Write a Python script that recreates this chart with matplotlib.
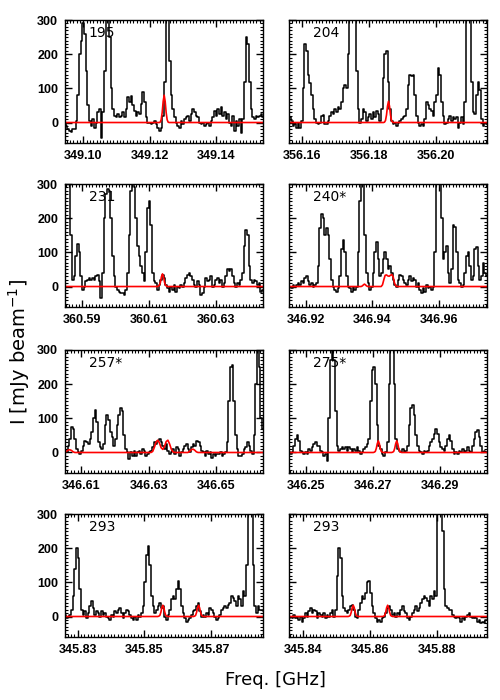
import numpy as np
import matplotlib
matplotlib.use("Agg")
import matplotlib.pyplot as plt
from matplotlib.ticker import FixedLocator, MultipleLocator, FormatStrFormatter

# etiquetas de cada panel
labels = ["195", "204", "231", "240*", "257*", "275*", "293", "293"]

# frecuencia del primer canal y ancho de canal (GHz)
f0 = [349.0945, 356.1558, 360.5846, 346.9148, 346.6053, 346.2448, 345.8262, 345.8358]
df = 0.0005

# limites en x y ticks
xlims = [(349.0945, 349.1540), (356.1560, 356.2153), (360.5848, 360.6441), (346.9150, 346.9743),
         (346.6053, 346.6638), (346.2448, 346.3040), (345.8262, 345.8855), (345.8358, 345.8950)]
xticks = [[349.10, 349.12, 349.14], [356.16, 356.18, 356.20], [360.59, 360.61, 360.63],
          [346.92, 346.94, 346.96], [346.61, 346.63, 346.65], [346.25, 346.27, 346.29],
          [345.83, 345.85, 345.87], [345.84, 345.86, 345.88]]

# espectros observados (mJy/beam)
spec_195 = [-5, -10, -20, -25, -28, -20, -20, 5, 80, 200, 240, 290, 260, 150, 50, 5, -10, 10, -15, 0,
            30, 40, -45, 30, 150, 320, 340, 250, 100, 40, 20, 15, 25, 15, 20, 30, 15, 40, 75, 60,
            78, 50, 35, 20, 30, 25, 55, 88, 60, 15, 0, 0, -5, 0, 5, -5, -15, -25, -15, 20,
            120, 330, 320, 180, 80, 40, 15, 0, -10, -15, 5, -5, 10, 15, 20, 5, 25, 40, 30, 20,
            15, 0, -5, 0, -10, -5, 0, -10, 5, 15, 35, 20, 40, 25, 45, 20, 30, 10, 25, 0,
            -10, 20, -25, 5, -10, 10, -30, 10, 120, 250, 230, 120, 40, 15, 10, 20, 15, 20, 25, 15]
spec_204 = [30, 15, 5, -10, -5, -15, 0, -15, 5, 100, 230, 210, 140, 115, 80, 40, 10, 0, -5, 0,
            20, 22, -5, -5, 5, 20, 30, 25, 40, 30, 45, 40, 60, 100, 110, 100, 200, 330, 300, 330,
            330, 150, 40, 0, 10, 40, 30, 5, 15, 25, 10, 30, 15, 35, 25, 5, 40, 130, 200, 210,
            120, 40, 5, -5, 0, -10, 0, 5, 10, 15, 20, 40, 110, 140, 135, 140, 80, 20, 0, -10,
            -5, -10, 10, 60, 50, 40, 35, 20, 60, 80, 160, 140, 60, 20, -5, 0, 10, 20, 5, 15,
            10, 15, -15, 0, 15, -5, 60, 300, 330, 330, 120, 30, 25, 80, 120, 95, 10, -10, 0, -5]
spec_231 = [330, 330, 330, 300, 150, 20, 30, 90, 125, 100, 30, -10, 0, 15, 20, 25, 20, 25, 20, 30,
            35, 15, -33, 40, 200, 270, 285, 280, 200, 90, 30, 0, -10, -15, -20, -18, -25, -10, 40, 150,
            280, 320, 290, 200, 120, 90, 60, 40, 15, 100, 230, 250, 180, 40, 15, 10, -10, 5, 20, 35,
            25, 5, -5, -15, 0, -10, 5, -15, 0, -5, 5, 0, 10, 25, 35, 40, 30, 20, 5, 0,
            15, 5, -25, -20, 0, 25, 15, 20, 30, 0, 5, 20, 25, 10, 20, 0, 10, 30, 50, 45,
            50, 30, 10, 0, 10, 5, 20, 40, 120, 165, 150, 60, 20, 10, 20, 15, 5, 10, -15, -10]
spec_240 = [-5, 0, -5, 5, 0, 5, 10, 5, 15, 10, 25, 32, 15, 5, 10, 0, 5, 10, 60, 170,
            212, 200, 150, 172, 150, 80, 20, 0, -10, -15, -5, 30, 110, 137, 100, 30, 0, -5, -15, 0,
            -10, 0, 100, 250, 330, 320, 150, 40, 10, -10, 0, 40, 100, 130, 80, 30, 40, 80, 100, 80,
            50, 60, 40, 20, 5, 0, 20, 35, 30, 20, 10, 5, 20, 30, 15, 25, 20, 0, 10, -10,
            -20, -5, -15, 5, -5, 0, -10, 0, 100, 300, 330, 330, 200, 80, 100, 120, 40, 10, 50, 180,
            175, 100, 20, 10, 0, 5, 40, 90, 100, 60, 20, 30, 110, 115, 60, 20, 30, 70, 40, 30]
spec_257 = [5, 0, 20, 40, 75, 70, 40, 10, 0, -5, 5, 20, 35, 30, 25, 40, 60, 100, 125, 90,
            30, 15, 10, 25, 80, 110, 95, 60, 45, 20, 40, 80, 110, 130, 120, 50, 10, 0, -20, 0,
            -10, 5, -10, 0, 5, -5, 10, 5, -10, -5, 0, 5, 15, 30, 25, 35, 40, 30, 20, 10,
            25, 5, -5, 0, 10, -5, 15, 10, -10, 0, 10, 20, 25, 10, 0, 15, 25, 20, 35, 30,
            20, 5, 0, -10, 5, -5, 0, -15, -5, -10, -5, -5, 0, -10, -5, 0, 30, 150, 250, 255,
            150, 50, 10, -10, -10, -5, 10, 15, 30, 20, 5, -5, 50, 200, 310, 250, 100, 70, 130, 110]
spec_275 = [0, -5, 0, 20, 40, 50, 35, 5, 0, -5, 0, -5, 10, 5, 15, 25, 30, 20, 20, 5,
            0, -10, -5, -25, 100, 270, 320, 270, 120, 20, 5, 10, 15, 10, 15, 5, 15, 10, 0, 10,
            5, 15, 5, -5, 0, 10, 15, 25, 40, 150, 240, 250, 200, 80, 20, 10, -5, -10, 0, 30,
            200, 320, 330, 200, 40, 10, 5, 0, 10, 0, 5, 20, 80, 130, 140, 110, 50, 20, 5, 0,
            -5, 5, 0, 5, 20, 30, 40, 55, 70, 55, 30, 15, 10, 5, 20, 40, 50, 35, 10, -5,
            0, -5, 5, 0, 10, 0, 5, 15, 5, 0, 20, 40, 60, 65, 45, 20, 0, 5, 0, 0]
spec_293a = [5, -5, 0, 5, 20, 60, 140, 200, 170, 80, 20, 5, 15, -5, 10, 30, 45, 25, 5, 15,
             10, 0, 15, 5, 10, 0, -5, -10, 5, 0, 15, 10, 20, 25, 10, -5, 10, 20, 15, 5,
             -5, -10, 0, -10, 5, 0, 10, 30, 100, 180, 205, 150, 60, 30, 10, 20, 30, 40, 25, 30,
             0, -10, 5, 20, 50, 60, 50, 80, 105, 80, 30, 10, -5, -15, -10, -5, 5, 15, 20, 30,
             40, 15, 0, 5, 0, 10, 5, 25, 20, 10, 0, -10, -5, 5, 20, 25, 30, 25, 35, 40,
             60, 55, 45, 30, 60, 50, 30, 75, 60, 150, 330, 330, 330, 150, 30, 10, 30, 20, 20, 15]
spec_293b = [-5, 0, -5, 5, -5, 0, -10, 0, -15, -5, 10, 0, 15, 25, 10, 20, 15, -5, 10, 5,
             0, 10, -5, 5, 0, 10, 20, 0, 20, 120, 200, 170, 60, 25, 15, 10, 20, 30, 35, 20,
             0, -5, 20, 40, 60, 50, 70, 100, 105, 70, 30, 10, -5, -15, -10, -15, -5, 0, 10, 25,
             30, 20, 5, 10, 0, 10, 5, 20, 30, 15, 10, -5, -10, 0, 10, 20, 30, 15, 25, 40,
             50, 60, 55, 45, 30, 60, 50, 75, 60, 330, 330, 330, 250, 80, 30, 25, 20, 20, 5, 0,
             -5, 0, -5, -15, -5, -10, 0, 5, 10, 0, -5, 0, -5, -15, -10, -20, -15, -20, -10, -10]
spectra = [spec_195, spec_204, spec_231, spec_240, spec_257, spec_275, spec_293a, spec_293b]

# ajustes gaussianos (rojo)
fit_x = [
    [349.0945, 349.1228, 349.1231, 349.1234, 349.1237, 349.1240, 349.1243, 349.1246, 349.1249, 349.1252, 349.1255, 349.1258, 349.1540],
    [356.1560, 356.1843, 356.1846, 356.1849, 356.1852, 356.1855, 356.1858, 356.1861, 356.1864, 356.1867, 356.1870, 356.1873, 356.2153],
    [360.5848, 360.6125, 360.6128, 360.6131, 360.6134, 360.6137, 360.6140, 360.6143, 360.6146, 360.6149, 360.6152, 360.6155, 360.6441],
    [346.9150, 346.9366, 346.9370, 346.9373, 346.9376, 346.9379, 346.9382, 346.9386,
     346.9426, 346.9430, 346.9434, 346.9438, 346.9442, 346.9446, 346.9450, 346.9454, 346.9458, 346.9462, 346.9466, 346.9470, 346.9474, 346.9743],
    [346.6053, 346.6058, 346.6062, 346.6067, 346.6072, 346.6077, 346.6082,
     346.6307, 346.6312, 346.6317, 346.6322, 346.6327, 346.6332, 346.6337, 346.6342, 346.6347, 346.6352, 346.6357, 346.6362, 346.6367, 346.6372, 346.6377,
     346.6416, 346.6421, 346.6426, 346.6431, 346.6436, 346.6441, 346.6446, 346.6638],
    [346.2448, 346.2700, 346.2703, 346.2706, 346.2709, 346.2712, 346.2715, 346.2718, 346.2721, 346.2724, 346.2727, 346.2730,
     346.2755, 346.2758, 346.2761, 346.2764, 346.2767, 346.2770, 346.2773, 346.2776, 346.2779, 346.2782, 346.2785, 346.3040],
    [345.8262, 345.8540, 345.8543, 345.8546, 345.8549, 345.8552, 345.8555, 345.8558, 345.8561, 345.8564, 345.8567, 345.8570,
     345.8647, 345.8650, 345.8653, 345.8656, 345.8659, 345.8662, 345.8665, 345.8668, 345.8671, 345.8674, 345.8677, 345.8855],
    [345.8358, 345.8535, 345.8538, 345.8541, 345.8544, 345.8547, 345.8550, 345.8553, 345.8556, 345.8559, 345.8562, 345.8565,
     345.8638, 345.8641, 345.8644, 345.8647, 345.8650, 345.8653, 345.8656, 345.8659, 345.8662, 345.8665, 345.8668, 345.8950],
]
fit_y = [
    [0, 0, 1, 8, 29, 62, 80, 62, 29, 8, 1, 0, 0],
    [0, 0, 1, 6, 22, 48, 62, 48, 22, 6, 1, 0, 0],
    [0, 0, 1, 4, 13, 29, 37, 29, 13, 4, 1, 0, 0],
    [0, 0, 2, 5, 7, 5, 2, 0,
     0, 5, 20, 33, 34, 31, 30, 33, 35, 28, 10, 2, 0, 0],
    [1, 4, 7, 8, 6, 2, 0,
     0, 3, 15, 30, 36, 28, 14, 9, 18, 32, 36, 25, 10, 2, 0,
     0, 3, 8, 10, 7, 2, 0, 0],
    [0, 0, 1, 3, 12, 26, 34, 26, 12, 3, 1, 0,
     0, 1, 3, 12, 26, 34, 26, 12, 3, 1, 0, 0],
    [0, 0, 1, 3, 12, 26, 33, 26, 12, 3, 1, 0,
     0, 1, 3, 12, 26, 33, 26, 12, 3, 1, 0, 0],
    [0, 0, 1, 3, 12, 26, 33, 26, 12, 3, 1, 0,
     0, 1, 3, 12, 26, 33, 26, 12, 3, 1, 0, 0],
]

ylim = (-60, 300)
yticks = [0, 100, 200, 300]

fig = plt.figure(figsize=(5, 7), dpi=100)

lefts = [0.130, 0.578]
bottoms = [0.7957, 0.5614, 0.3243, 0.0900]
w = 0.396
h = 0.1757

for i in range(8):
    fila = i // 2
    col = i % 2
    ax = fig.add_axes([lefts[col], bottoms[fila], w, h])
    x = f0[i] + df * np.arange(len(spectra[i]))
    ax.plot(x, spectra[i], color="black", lw=1.1, drawstyle="steps-mid")
    ax.plot(fit_x[i], fit_y[i], color="red", lw=1.2)
    ax.set_xlim(xlims[i])
    ax.set_ylim(ylim)
    ax.xaxis.set_major_locator(FixedLocator(xticks[i]))
    ax.xaxis.set_major_formatter(FormatStrFormatter("%.2f"))
    ax.xaxis.set_minor_locator(MultipleLocator(0.001))
    ax.yaxis.set_major_locator(FixedLocator(yticks))
    ax.yaxis.set_minor_locator(MultipleLocator(10))
    ax.tick_params(which="both", direction="in", top=True, right=True)
    ax.tick_params(which="major", length=5, width=1, pad=5)
    ax.tick_params(which="minor", length=2, width=0.8)
    for lab in ax.get_xticklabels() + ax.get_yticklabels():
        lab.set_fontfamily("Liberation Sans")
        lab.set_fontweight("bold")
        lab.set_fontsize(9)
    if col == 1:
        ax.tick_params(labelleft=False)
    for s in ax.spines.values():
        s.set_linewidth(1.0)
    ax.text(0.12, 0.95, labels[i], transform=ax.transAxes, ha="left", va="top",
            fontsize=10, family="DejaVu Sans")

fig.text(0.038, 0.497, "I [mJy beam$^{-1}$]", rotation=90, ha="center", va="center", fontsize=14)
fig.text(0.55, 0.028, "Freq. [GHz]", ha="center", va="center", fontsize=13)

plt.savefig("out.png", dpi=100)
